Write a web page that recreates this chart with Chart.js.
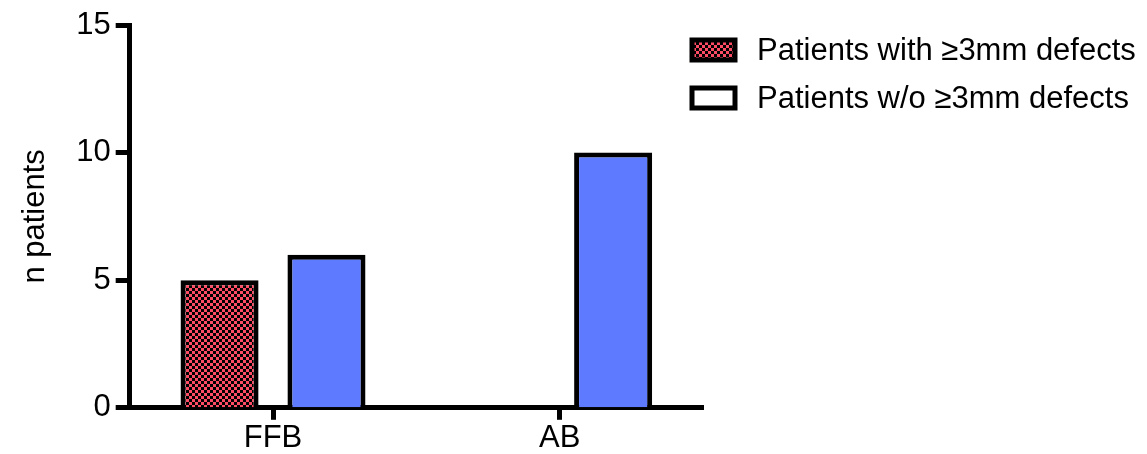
<!DOCTYPE html>
<html>
<head>
<meta charset="utf-8">
<script src="https://cdn.jsdelivr.net/npm/chart.js@4/dist/chart.umd.min.js"></script>
<style>
  html, body { margin: 0; padding: 0; background: #fff; }
  #wrap { width: 1147px; height: 454px; position: relative; }
</style>
</head>
<body>
<div id="wrap"><canvas id="chart" width="1147" height="454"></canvas></div>
<script>
const categories = ['FFB', 'AB'];
const withDefects = [5, 0];
const withoutDefects = [6, 10];
const seriesLabels = ['Patients with \u22653mm defects', 'Patients w/o \u22653mm defects'];
const yTicks = [0, 5, 10, 15];

const FONT = 'Liberation Sans, Arial, sans-serif';
const FS = 31;

// red/black checker fill
function checker() {
    const c = document.createElement('canvas');
    c.width = 6; c.height = 6;
    const g = c.getContext('2d');
    g.fillStyle = '#ff4c64';
    g.fillRect(0, 0, 6, 6);
    g.fillStyle = '#000';
    g.fillRect(0, 0, 3, 3);
    g.fillRect(3, 3, 3, 3);
    return g.createPattern(c, 'repeat');
}
const pattern = checker();

// legend drawn inside the canvas, over the plot's right side
const legendPlugin = {
    id: 'sideLegend',
    afterDraw(chart) {
        const ctx = chart.ctx;
        const fills = [pattern, '#ffffff'];
        ctx.save();
        ctx.font = FS + 'px ' + FONT;
        ctx.textBaseline = 'middle';
        seriesLabels.forEach((lab, i) => {
            const y = 50 + i * 48;
            ctx.fillStyle = fills[i];
            ctx.fillRect(692, y - 10, 43, 20);
            ctx.lineWidth = 5;
            ctx.strokeStyle = '#000';
            ctx.strokeRect(692, y - 10, 43, 20);
            ctx.fillStyle = '#000';
            ctx.fillText(lab, 757, y + 1);
        });
        ctx.restore();
    }
};

new Chart(document.getElementById('chart'), {
    type: 'bar',
    data: {
        labels: categories,
        datasets: [{
            label: seriesLabels[0],
            data: withDefects,
            backgroundColor: pattern,
            borderColor: '#000',
            borderWidth: 5,
            borderSkipped: 'bottom'
        }, {
            label: seriesLabels[1],
            data: withoutDefects,
            backgroundColor: '#5e7bff',
            borderColor: '#000',
            borderWidth: 5,
            borderSkipped: 'bottom'
        }]
    },
    options: {
        responsive: false,
        animation: false,
        categoryPercentage: 0.746,
        barPercentage: 0.73,
        layout: { padding: { top: 25, right: 444, bottom: -3, left: 17 } },
        plugins: {
            legend: { display: false },
            tooltip: { enabled: false }
        },
        scales: {
            x: {
                grid: {
                    offset: false,
                    drawOnChartArea: false,
                    tickLength: 12,
                    tickWidth: 5,
                    tickColor: '#000'
                },
                border: { color: '#000', width: 5 },
                ticks: { color: '#000', font: { family: FONT, size: FS }, padding: 0 }
            },
            y: {
                min: 0,
                max: 15,
                afterBuildTicks(axis) { axis.ticks = yTicks.map(v => ({ value: v })); },
                grid: {
                    drawOnChartArea: false,
                    tickLength: 14,
                    tickWidth: 5,
                    tickColor: '#000'
                },
                border: { color: '#000', width: 5 },
                ticks: { color: '#000', font: { family: FONT, size: FS }, padding: 5 },
                title: {
                    display: true,
                    text: 'n patients',
                    color: '#000',
                    font: { family: FONT, size: FS },
                    padding: { top: 0, bottom: 17 }
                }
            }
        }
    },
    plugins: [legendPlugin]
});
</script>
</body>
</html>
